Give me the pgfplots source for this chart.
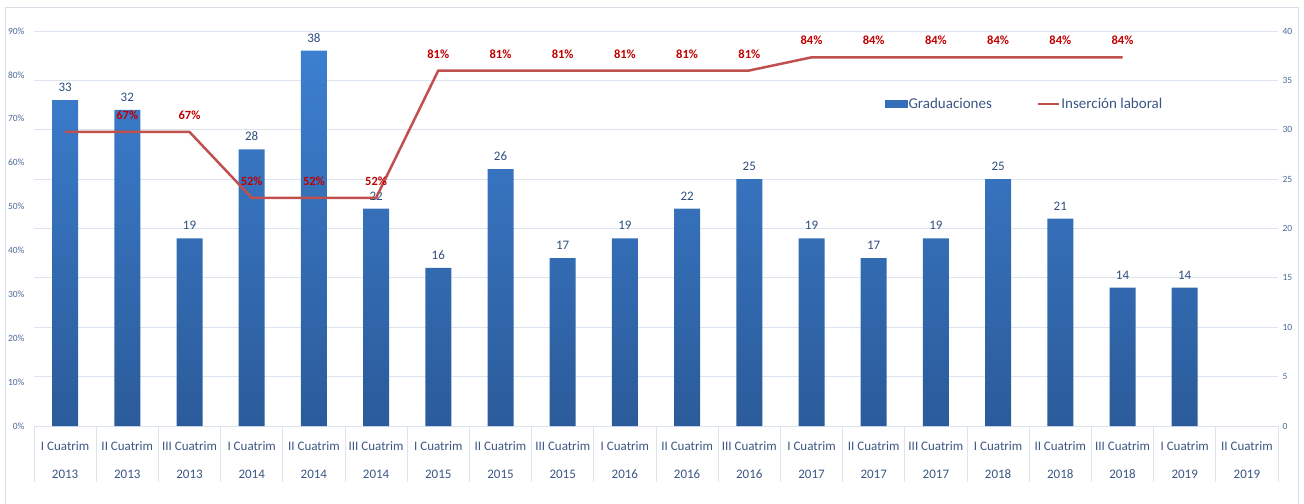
\documentclass[border=0pt]{standalone}
\usepackage{pgfplots}
\pgfplotsset{compat=1.18}
\usepackage{fontspec}
\setmainfont{Carlito}
\definecolor{barTop}{HTML}{3C7FD0}
\definecolor{barBot}{HTML}{2B5B9A}
\definecolor{barLeg}{HTML}{356FBA}
\definecolor{lineRed}{HTML}{C0504D}
\definecolor{labRed}{HTML}{C00000}
\definecolor{labBlue}{HTML}{2F4D7E}
\definecolor{tickCol}{HTML}{4A6A9A}
\definecolor{xlabCol}{HTML}{3B5683}
\definecolor{gridCol}{HTML}{DCE4F0}
\definecolor{frameCol}{HTML}{D9DEE6}

\pgfplotstableread{
x y
0 33
1 32
2 19
3 28
4 38
5 22
6 16
7 26
8 17
9 19
10 22
11 25
12 19
13 17
14 19
15 25
16 21
17 14
18 14
}\bardata

\begin{document}
\begin{tikzpicture}
\draw[frameCol, line width=0.8bp] (5bp,-20bp) -- (5bp,497bp) -- (1298bp,497bp) -- (1298bp,-20bp);
% bars on right axis
\begin{axis}[
  at={(34bp,78bp)}, anchor=south west,
  scale only axis, width=1244bp, height=395bp,
  xmin=-0.5, xmax=19.5, ymin=0, ymax=40,
  axis x line*=bottom, axis y line*=right,
  x axis line style={draw=gridCol, line width=0.8bp},
  y axis line style={draw=none},
  ytick={0,5,...,40},
  ymajorgrids, grid style={draw=gridCol, line width=0.8bp},
  major tick length=0pt,
  xtick={0,...,19},
  xticklabels={{I Cuatrim\\2013},{II Cuatrim\\2013},{III Cuatrim\\2013},
    {I Cuatrim\\2014},{II Cuatrim\\2014},{III Cuatrim\\2014},
    {I Cuatrim\\2015},{II Cuatrim\\2015},{III Cuatrim\\2015},
    {I Cuatrim\\2016},{II Cuatrim\\2016},{III Cuatrim\\2016},
    {I Cuatrim\\2017},{II Cuatrim\\2017},{III Cuatrim\\2017},
    {I Cuatrim\\2018},{II Cuatrim\\2018},{III Cuatrim\\2018},
    {I Cuatrim\\2019},{II Cuatrim\\2019}},
  xticklabel style={align=center, font=\fontsize{13bp}{28bp}\selectfont, text=xlabCol, yshift=-12bp},
  extra x ticks={-0.5,0.5,1.5,2.5,3.5,4.5,5.5,6.5,7.5,8.5,9.5,10.5,11.5,12.5,13.5,14.5,15.5,16.5,17.5,18.5,19.5},
  extra x tick labels={},
  extra x tick style={major tick length=56bp, tick align=outside, tick style={draw=gridCol, line width=0.8bp}, grid=none},
  yticklabel style={font=\fontsize{9.5bp}{11bp}\selectfont, text=tickCol, xshift=1bp},
  /pgf/number format/assume math mode=true,
  clip=false,
]
\addplot[ybar, bar width=26bp, draw=none, top color=barTop, bottom color=barBot,
  nodes near coords, nodes near coords style={font=\fontsize{13bp}{15bp}\selectfont, text=labBlue, yshift=5bp}]
  table[x=x,y=y] {\bardata};
\end{axis}
% line on left axis
\begin{axis}[
  at={(34bp,78bp)}, anchor=south west,
  scale only axis, width=1244bp, height=395bp,
  xmin=-0.5, xmax=19.5, ymin=0, ymax=90,
  axis x line*=bottom, axis y line*=left,
  x axis line style={draw=none},
  y axis line style={draw=none},
  xtick=\empty,
  ytick={0,10,...,90},
  yticklabel={\pgfmathprintnumber{\tick}\%},
  major tick length=0pt,
  yticklabel style={font=\fontsize{9.5bp}{11bp}\selectfont, text=tickCol, xshift=-6bp},
  /pgf/number format/assume math mode=true,
  clip=false,
  legend columns=2,
  legend cell align=left,
  legend style={at={(0.684,0.815)}, anchor=west, draw=none, fill=none, inner sep=0pt,
    font=\fontsize{15bp}{18bp}\selectfont, text=xlabCol,
    nodes={inner sep=1bp},
    /tikz/every even column/.append style={column sep=44bp}},
]
\addlegendimage{legend image code/.code={\fill[barLeg] (0bp,-3.5bp) rectangle (22bp,3.5bp);}}
\addlegendentry{Graduaciones}
\addplot[lineRed, line width=2.5bp, mark=none,
  legend image code/.code={\draw[lineRed, line width=2.5bp] (0bp,0bp) -- (21bp,0bp);},
  nodes near coords, point meta=explicit symbolic,
  nodes near coords style={font=\fontsize{12.5bp}{15bp}\selectfont\bfseries, text=labRed, anchor=south, inner sep=0pt, yshift=11bp}]
  coordinates {
  (0,67) []
  (1,67) [67\%]
  (2,67) [67\%]
  (3,52) [52\%]
  (4,52) [52\%]
  (5,52) [52\%]
  (6,81) [81\%]
  (7,81) [81\%]
  (8,81) [81\%]
  (9,81) [81\%]
  (10,81) [81\%]
  (11,81) [81\%]
  (12,84) [84\%]
  (13,84) [84\%]
  (14,84) [84\%]
  (15,84) [84\%]
  (16,84) [84\%]
  (17,84) [84\%]
  };
\addlegendentry{Inserción laboral}
\end{axis}
\pgfresetboundingbox
\path[use as bounding box] (0,0) rectangle (1304bp,504bp);
\end{tikzpicture}
\end{document}
